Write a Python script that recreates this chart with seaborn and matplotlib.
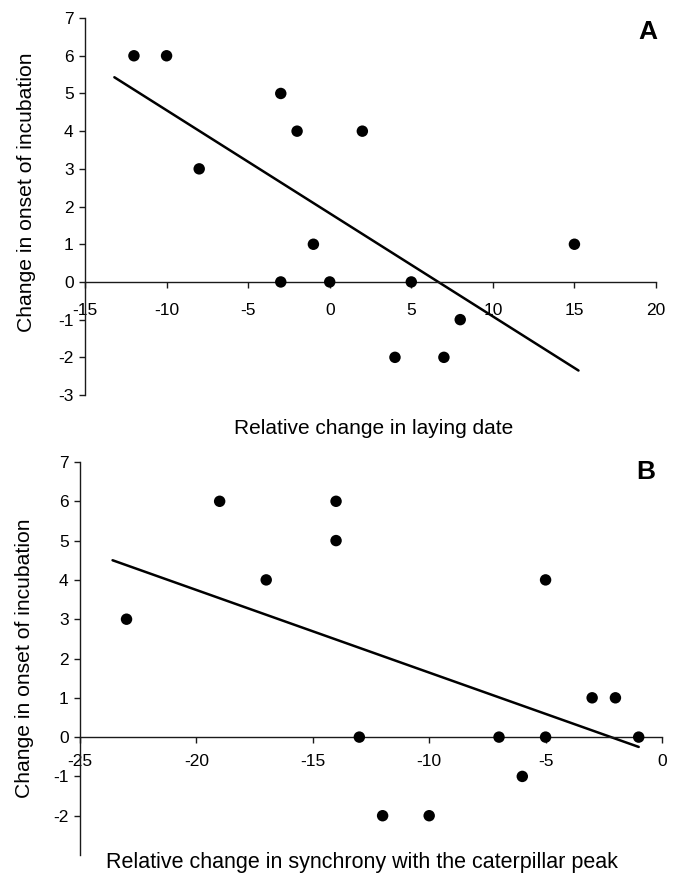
import matplotlib
matplotlib.use('Agg')
import matplotlib.pyplot as plt
import seaborn as sns

# panel A : relative change in laying date vs change in onset of incubation
laying_x = [-12, -10, -8, -3, -2, 2, -1, -3, 0, 5, 15, 8, 4, 7]
laying_y = [6, 6, 3, 5, 4, 4, 1, 0, 0, 0, 1, -1, -2, -2]
# trend line ends
trend_a_x = [-13.2, 15.25]
trend_a_y = [5.43, -2.35]

# panel B : relative change in synchrony with caterpillar peak
synch_x = [-23, -19, -17, -14, -14, -13, -12, -10, -7, -6, -5, -5, -3, -2, -1]
synch_y = [3, 6, 4, 6, 5, 0, -2, -2, 0, -1, 4, 0, 1, 1, 0]
trend_b_x = [-23.6, -1.0]
trend_b_y = [4.5, -0.25]

ylabel = 'Change in onset of incubation'

sns.set_style('white')
plt.rcParams['font.family'] = ['Liberation Sans', 'DejaVu Sans']
plt.rcParams['axes.unicode_minus'] = False
plt.rcParams['text.color'] = 'black'
plt.rcParams['axes.labelcolor'] = 'black'

fig = plt.figure(figsize=(6.8, 8.73), dpi=100)
ax_a = fig.add_axes([0.125, 0.5475, 0.8397, 0.4318])
ax_b = fig.add_axes([0.1176, 0.0206, 0.8559, 0.4502])


def style_axes(ax, xlim, xticks, yticks, xpad):
    ax.set_xlim(*xlim)
    ax.set_ylim(-3, 7)
    ax.set_xticks(xticks)
    ax.set_yticks(yticks)
    ax.spines['top'].set_visible(False)
    ax.spines['right'].set_visible(False)
    ax.spines['bottom'].set_position(('data', 0))
    for s in ['left', 'bottom']:
        ax.spines[s].set_color('#1a1a1a')
        ax.spines[s].set_linewidth(1.0)
    ax.tick_params(axis='both', direction='out', length=4.5, width=1.0,
                   color='#1a1a1a', labelsize=12.5, labelcolor='black',
                   bottom=True, left=True)
    ax.tick_params(axis='x', pad=xpad)
    ax.tick_params(axis='y', pad=3.6)


# panel A
sns.scatterplot(x=laying_x, y=laying_y, color='black', s=68, edgecolor='none', ax=ax_a, zorder=3)
sns.lineplot(x=trend_a_x, y=trend_a_y, color='black', lw=1.8, ax=ax_a)
style_axes(ax_a, (-15, 20), range(-15, 21, 5), range(-3, 8), 10.5)
ax_a.set_xlabel('Relative change in laying date', fontsize=15)
ax_a.xaxis.label.set_va('center')
ax_a.xaxis.set_label_coords(0.505, -0.089)
ax_a.set_ylabel(ylabel, fontsize=15.2)
ax_a.yaxis.label.set_va('center')
ax_a.yaxis.set_label_coords(-0.103, 0.538)
ax_a.text(1.0018, 0.944, 'A', transform=ax_a.transAxes, fontsize=19,
          fontweight='bold', ha='right', va='baseline')

# panel B
sns.scatterplot(x=synch_x, y=synch_y, color='black', s=68, edgecolor='none', ax=ax_b, zorder=3)
sns.lineplot(x=trend_b_x, y=trend_b_y, color='black', lw=1.8, ax=ax_b)
style_axes(ax_b, (-25, 0), range(-25, 1, 5), range(-2, 8), 7.5)
ax_b.set_xlabel('Relative change in synchrony with the caterpillar peak', fontsize=15.5)
ax_b.xaxis.label.set_va('center')
ax_b.xaxis.set_label_coords(0.485, -0.018)
ax_b.set_ylabel(ylabel, fontsize=15.2)
ax_b.yaxis.label.set_va('center')
ax_b.yaxis.set_label_coords(-0.0945, 0.501)
ax_b.text(0.988, 0.957, 'B', transform=ax_b.transAxes, fontsize=19,
          fontweight='bold', ha='right', va='baseline')

fig.savefig('out.png', dpi=100)
